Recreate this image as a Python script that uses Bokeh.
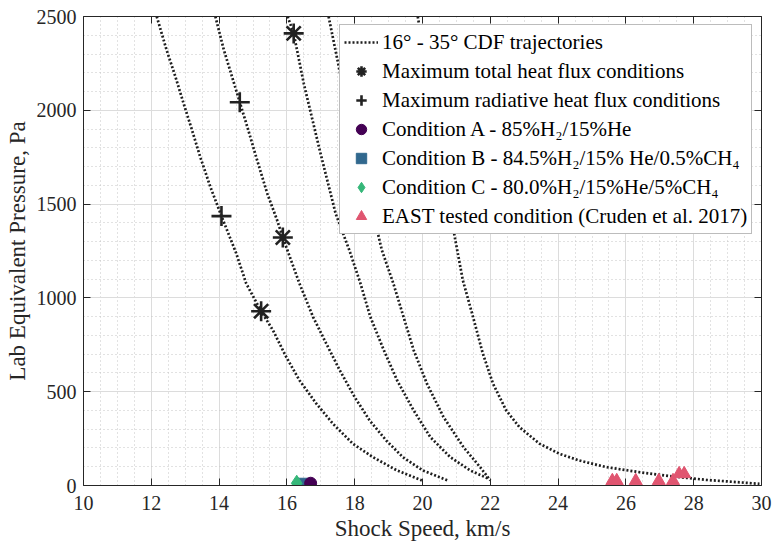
from bokeh.plotting import figure
from bokeh.models import (Range1d, LinearAxis, SingleIntervalTicker, Legend, LegendItem,
                          PrintfTickFormatter, InlineStyleSheet)
from bokeh.embed import file_html
from bokeh.resources import INLINE

# ---- data ----
cdf1_x = [12.16, 12.45, 12.71, 12.95, 13.20, 13.44, 13.74, 14.07, 14.50, 14.80, 15.24,
          15.59, 15.98, 16.37, 16.87, 17.36, 17.95, 18.54, 19.25, 19.98]
cdf1_y = [2500, 2322, 2180, 2038, 1895, 1753, 1593, 1436, 1240, 1077, 929,
          827, 685, 561, 436, 329, 222, 151, 80, 27]

cdf2_x = [13.89, 14.14, 14.38, 14.61, 14.83, 15.12, 15.42, 15.71, 15.88, 16.37, 16.77,
          17.16, 17.56, 18.00, 18.44, 18.93, 19.42, 20.01, 20.75]
cdf2_y = [2500, 2322, 2180, 2043, 1913, 1735, 1557, 1415, 1322, 1077, 899,
          757, 614, 471, 347, 240, 151, 80, 27]

cdf3_x = [16.02, 16.20, 16.50, 16.97, 17.44, 17.84, 18.17, 18.46, 18.86, 19.25, 19.74,
          20.23, 20.82, 21.41, 21.95]
cdf3_y = [2500, 2410, 2141, 1786, 1448, 1255, 1077, 899, 721, 561, 400,
          258, 151, 80, 36]

cdf4_x = [17.23, 17.57, 18.80, 19.14, 19.44, 19.74, 20.13, 20.62, 21.21, 21.70, 22.00]
cdf4_y = [2500, 2198, 1255, 1077, 899, 721, 543, 365, 204, 98, 27]

cdf5_x = [19.86, 20.95, 21.19, 21.49, 21.78, 22.08, 22.47, 22.86, 23.45, 24.04, 24.63,
          25.42, 26.40, 27.39, 28.37, 29.94]
cdf5_y = [2500, 1326, 1094, 899, 703, 543, 400, 311, 223, 169, 133,
          98, 71, 48, 30, 9]

max_total_x = [16.20, 15.88, 15.24]
max_total_y = [2410, 1322, 929]

max_rad_x = [14.61, 14.07]
max_rad_y = [2043, 1436]

cond_a_x, cond_a_y = [16.70], [12]
cond_b_x, cond_b_y = [16.47], [12]
cond_c_x, cond_c_y = [16.29], [12]

east_x = [25.60, 25.73, 26.29, 26.97, 27.39, 27.57, 27.72]
east_y = [25, 25, 25, 25, 25, 62, 62]

x_ticks_interval = 2
y_ticks_interval = 500

labels = [
    "16° - 35° CDF trajectories",
    "Maximum total heat flux conditions",
    "Maximum radiative heat flux conditions",
    "Condition A - 85%H\u2082/15%He",
    "Condition B - 84.5%H\u2082/15% He/0.5%CH\u2084",
    "Condition C - 80.0%H\u2082/15%He/5%CH\u2084",
    "EAST tested condition (Cruden et al. 2017)",
]

FONT = "Liberation Serif"
DARK = "#262626"

css = InlineStyleSheet(css="""
:host { font-family: 'Liberation Serif', 'Times New Roman', serif; }
text { font-family: 'Liberation Serif', 'Times New Roman', serif !important; }
""")

p = figure(width=772, height=547, output_backend="svg", toolbar_location=None,
           x_range=Range1d(10, 30), y_range=Range1d(0, 2500),
           min_border_left=83, min_border_right=11, min_border_top=16, min_border_bottom=62,
           x_axis_label="Shock Speed, km/s", y_axis_label="Lab Equivalent Pressure, Pa",
           stylesheets=[css])
p.outline_line_color = None
p.background_fill_color = "white"
p.border_fill_color = "white"

xt = SingleIntervalTicker(interval=x_ticks_interval, num_minor_ticks=4)
yt = SingleIntervalTicker(interval=y_ticks_interval, num_minor_ticks=5)

p.xaxis.ticker = xt
p.yaxis.ticker = yt
p.axis.major_tick_in = 7
p.axis.major_tick_out = 0
p.axis.minor_tick_in = 0
p.axis.minor_tick_out = 0
p.axis.axis_line_color = DARK
p.axis.major_tick_line_color = DARK
p.axis.major_label_text_font = FONT
p.axis.major_label_text_font_size = "20px"
p.axis.major_label_text_color = DARK
p.axis.axis_label_text_font = FONT
p.axis.axis_label_text_font_size = "23px"
p.axis.axis_label_text_font_style = "normal"
p.axis.axis_label_text_color = DARK

p.xaxis.major_label_standoff = 10
p.xaxis.axis_label_standoff = 3
p.yaxis.major_label_standoff = 7
p.yaxis.axis_label_standoff = 4

for loc, tk in (("above", xt), ("right", yt)):
    a = LinearAxis(ticker=tk, formatter=PrintfTickFormatter(format=" "),
                   major_tick_in=7, major_tick_out=0, minor_tick_in=0, minor_tick_out=0,
                   major_label_standoff=0, major_label_text_font=FONT,
                   major_label_text_font_size="8px", major_label_text_alpha=0,
                   axis_line_color=DARK, major_tick_line_color=DARK)
    p.add_layout(a, loc)

for g, tk in ((p.xgrid[0], xt), (p.ygrid[0], yt)):
    g.ticker = tk
    g.grid_line_color = "#dcdcdc"
    g.grid_line_width = 1
    g.minor_grid_line_color = "#c4c4c4"
    g.minor_grid_line_dash = "1 3"
    g.minor_grid_line_width = 1

line_kw = dict(line_color="#1e1e1e", line_width=2.7, line_dash="2 2", line_cap="butt")
curves = []
for xs, ys in ((cdf1_x, cdf1_y), (cdf2_x, cdf2_y), (cdf3_x, cdf3_y),
               (cdf4_x, cdf4_y), (cdf5_x, cdf5_y)):
    curves.append(p.line(xs, ys, **line_kw))

r_tot = p.scatter(max_total_x, max_total_y, marker="asterisk", size=20,
                  line_color="#222222", line_width=2.6)
r_rad = p.scatter(max_rad_x, max_rad_y, marker="cross", size=20,
                  line_color="#222222", line_width=2.6)
r_b = p.scatter(cond_b_x, cond_b_y, marker="square", size=10,
                fill_color="#31688E", line_color="#31688E")
r_c = p.scatter(cond_c_x, cond_c_y, marker="diamond", size=16,
                fill_color="#35B779", line_color="#35B779")
r_a = p.scatter(cond_a_x, cond_a_y, marker="circle", size=12,
                fill_color="#440154", line_color="#440154")
r_e = p.scatter(east_x, east_y, marker="triangle", size=13,
                fill_color="#E05570", line_color="#E05570")

rends = [curves[0], r_tot, r_rad, r_a, r_b, r_c, r_e]
legend = Legend(items=[LegendItem(label=lab, renderers=[r]) for lab, r in zip(labels, rends)],
                location=(256, 251), margin=0, padding=4, spacing=3,
                glyph_width=34, glyph_height=26, label_height=26, label_standoff=4,
                label_text_font=FONT, label_text_font_size="21px", label_text_color="black",
                border_line_color="#7a7a7a", border_line_width=1,
                background_fill_color="white", background_fill_alpha=1.0)
p.add_layout(legend, "center")

open("out.html", "w").write(file_html(p, INLINE))
